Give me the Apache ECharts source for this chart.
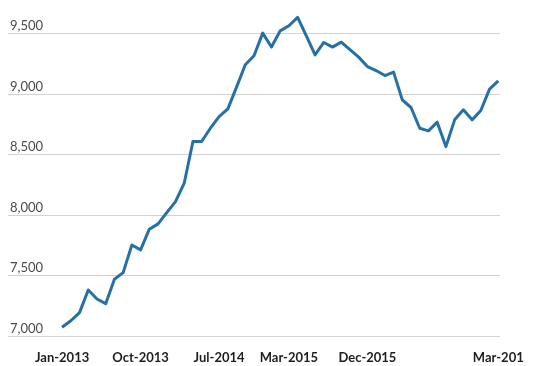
<!DOCTYPE html>
<html>
<head>
<meta charset="utf-8">
<script src="https://cdn.jsdelivr.net/npm/echarts@6/dist/echarts.min.js"></script>
<style>html,body{margin:0;padding:0;background:#fff}#c{width:535px;height:366px}</style>
</head>
<body>
<div id="c"></div>
<script>
// Monthly values, Jan-2013 .. Mar-2017 (51 months)
var values = [7072,7126,7193,7380,7306,7267,7469,7523,7752,7711,7882,7926,8019,8110,
  8262,8606,8606,8716,8812,8876,9055,9240,9314,9501,9386,9520,9562,9631,9479,9322,
  9424,9386,9427,9364,9303,9225,9192,9151,9179,8950,8887,8716,8694,8766,8564,8785,
  8868,8785,8862,9039,9107];
var tickIndex = [0, 9, 18, 26, 35, 50];
var tickLabels = ['Jan-2013', 'Oct-2013', 'Jul-2014', 'Mar-2015', 'Dec-2015', 'Mar-201'];
var yTicks = [7000, 7500, 8000, 8500, 9000, 9500];

var chart = echarts.init(document.getElementById('c'), null, {renderer: 'canvas'});
chart.setOption({
  animation: false,
  grid: {left: 8, right: 35, top: 3, bottom: 30},
  xAxis: {
    type: 'value', min: -6.2, max: 50.2,
    axisLine: {show: false}, axisTick: {show: false}, splitLine: {show: false},
    axisLabel: {
      customValues: tickIndex,
      formatter: function (v) { var i = tickIndex.indexOf(Math.round(v)); return i >= 0 ? tickLabels[i] : ''; },
      margin: 15, fontFamily: 'Lato', fontWeight: 'bold', fontSize: 13, color: '#1e1e1e'
    }
  },
  yAxis: {
    type: 'value', min: yTicks[0], max: 9750, interval: 500,
    axisLine: {show: false}, axisTick: {show: false},
    splitLine: {show: true, showMaxLine: false, lineStyle: {color: '#d2d2d2', width: 1}},
    axisLabel: {
      inside: true, margin: 2, verticalAlign: 'bottom', padding: [0, 0, 1, 0],
      showMaxLabel: false,
      fontFamily: 'Lato', fontSize: 13, color: '#4a4a4a',
      formatter: function (v) { return v.toLocaleString('en-US'); }
    }
  },
  series: [{
    type: 'line',
    data: values.map(function (v, i) { return [i, v]; }),
    showSymbol: false, symbol: 'none',
    lineStyle: {color: '#2670a6', width: 3, join: 'round'}
  }]
});
</script>
</body>
</html>
